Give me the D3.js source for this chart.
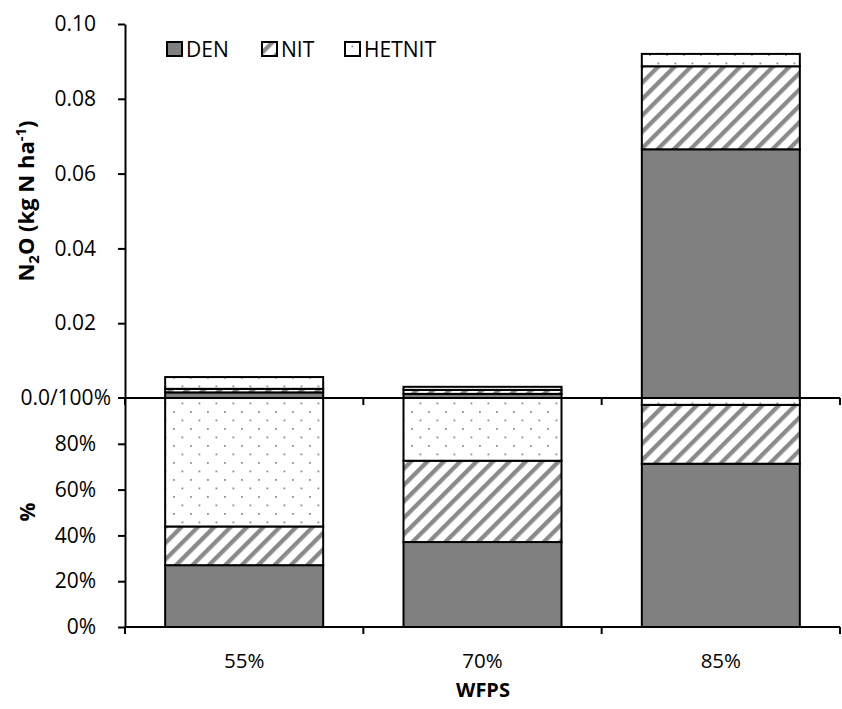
<!DOCTYPE html>
<html>
<head>
<meta charset="utf-8">
<script src="https://cdn.jsdelivr.net/npm/d3@7"></script>
<style>
  html, body { margin: 0; padding: 0; background: #fff; }
  svg { display: block; font-family: "Open Sans", sans-serif; }
</style>
</head>
<body>
<svg id="chart" width="842" height="709"></svg>
<script>
// WFPS treatments
const categories = ["55%", "70%", "85%"];
const seriesNames = ["DEN", "NIT", "HETNIT"];

// N2O emissions by pathway (kg N ha-1)
const denN2O = [0.0015, 0.0011, 0.0665];
const nitN2O = [0.00095, 0.00107, 0.0222];
const hetnitN2O = [0.00315, 0.00082, 0.0033];

// Share of each pathway (fraction of total)
const denPct = [0.27, 0.371, 0.713];
const nitPct = [0.169, 0.355, 0.257];
const hetnitPct = [0.561, 0.274, 0.030];

// Axis ticks
const n2oTicks = [0.02, 0.04, 0.06, 0.08, 0.10];
const pctTicks = [0, 0.2, 0.4, 0.6, 0.8];
const sharedTickLabel = "0.0/100%";

const svg = d3.select("#chart");
const defs = svg.append("defs");

// Fill patterns
const hatch = defs.append("pattern")
  .attr("id", "hatch").attr("patternUnits", "userSpaceOnUse")
  .attr("width", 11.6).attr("height", 11.6)
  .attr("patternTransform", "rotate(45)");
hatch.append("rect").attr("width", 11.6).attr("height", 11.6).attr("fill", "#fff");
hatch.append("rect").attr("x", 0).attr("y", 0).attr("width", 4.3).attr("height", 11.6).attr("fill", "#8a8a8a");

const dots = defs.append("pattern")
  .attr("id", "dots").attr("patternUnits", "userSpaceOnUse")
  .attr("width", 17).attr("height", 17);
dots.append("rect").attr("width", 17).attr("height", 17).attr("fill", "#fff");
dots.append("rect").attr("x", 3).attr("y", 3).attr("width", 1.8).attr("height", 1.8).attr("fill", "#8f8f8f");
dots.append("rect").attr("x", 11.5).attr("y", 11.5).attr("width", 1.8).attr("height", 1.8).attr("fill", "#8f8f8f");

const fills = { DEN: "#808080", NIT: "url(#hatch)", HETNIT: "url(#dots)" };

// Scales
const x = d3.scaleBand().domain(categories).range([125, 840])
  .paddingInner(0.337).paddingOuter(0.1685);
const yTop = d3.scaleLinear().domain([0, 0.10]).range([398, 24]);
const yPct = d3.scaleLinear().domain([0, 1]).range([627, 398]);

// Tables for stacking
const n2oRows = categories.map((c, i) => ({ cat: c, DEN: denN2O[i], NIT: nitN2O[i], HETNIT: hetnitN2O[i] }));
const pctRows = categories.map((c, i) => ({ cat: c, DEN: denPct[i], NIT: nitPct[i], HETNIT: hetnitPct[i] }));
const stack = d3.stack().keys(seriesNames);

function drawStack(rows, y) {
  const layers = stack(rows);
  const g = svg.append("g");
  layers.forEach(layer => {
    g.selectAll(null).data(layer).join("rect")
      .attr("x", d => x(d.data.cat))
      .attr("width", x.bandwidth())
      .attr("y", d => y(d[1]))
      .attr("height", d => y(d[0]) - y(d[1]))
      .attr("fill", fills[layer.key])
      .attr("stroke", "#000")
      .attr("stroke-width", 2);
  });
}
drawStack(pctRows, yPct);
drawStack(n2oRows, yTop);

// Axes
const tickFont = 21;
function styleAxis(g) {
  g.selectAll(".domain, .tick line").attr("stroke", "#000").attr("stroke-width", 2);
  g.selectAll("text").attr("font-size", tickFont).attr("font-family", "Open Sans, sans-serif").attr("fill", "#000");
}

svg.append("g").attr("transform", "translate(125,0)")
  .call(d3.axisLeft(yTop).tickValues(n2oTicks).tickFormat(d3.format(".2f")).tickSize(7).tickPadding(22).tickSizeOuter(0))
  .call(styleAxis);

svg.append("g").attr("transform", "translate(125,0)")
  .call(d3.axisLeft(yPct).tickValues(pctTicks).tickFormat(d3.format(".0%")).tickSize(7).tickPadding(22).tickSizeOuter(0))
  .call(styleAxis);

// Shared zero / 100% tick
const shared = svg.append("g").attr("transform", `translate(125,${yTop(0)})`);
shared.append("line").attr("x1", -7).attr("x2", 0).attr("stroke", "#000").attr("stroke-width", 2);
shared.append("text").attr("x", -14).attr("dy", "0.32em").attr("text-anchor", "end")
  .attr("font-size", tickFont).text(sharedTickLabel);

// Category axes: one under each panel
function catAxis(yPos, labels) {
  const g = svg.append("g").attr("transform", `translate(0,${yPos})`);
  g.append("line").attr("x1", 125).attr("x2", 840).attr("stroke", "#000").attr("stroke-width", 2);
  const bounds = [125].concat(categories.map(c => x(c) + x.bandwidth() + x.step() * x.paddingInner() / 2));
  bounds[bounds.length - 1] = 840;
  g.selectAll(null).data(bounds).join("line")
    .attr("x1", d => d).attr("x2", d => d).attr("y1", 0).attr("y2", 7)
    .attr("stroke", "#000").attr("stroke-width", 2);
  if (labels) {
    g.selectAll(null).data(categories).join("text")
      .attr("x", d => x(d) + x.bandwidth() / 2).attr("y", 41)
      .attr("text-anchor", "middle").attr("font-size", 20.5).text(d => d);
  }
}
catAxis(yTop(0), false);
catAxis(yPct(0), true);

// Axis titles
svg.append("text").attr("x", 483).attr("y", 697).attr("text-anchor", "middle")
  .attr("font-size", 20).attr("font-weight", "bold").text("WFPS");

const yt = svg.append("text").attr("transform", "translate(34,201) rotate(-90)")
  .attr("text-anchor", "middle").attr("font-size", 22).attr("font-weight", "bold");
yt.append("tspan").text("N");
yt.append("tspan").attr("font-size", 15).attr("dy", 5).text("2");
yt.append("tspan").attr("dy", -5).text("O (kg N ha");
yt.append("tspan").attr("font-size", 15).attr("dy", -8).text("-1");
yt.append("tspan").attr("dy", 8).text(")");

svg.append("text").attr("transform", "translate(35,512) rotate(-90)")
  .attr("text-anchor", "middle").attr("font-size", 21).attr("font-weight", "bold").text("%");

// Legend
const legendX = [167, 262, 345];
const legend = svg.append("g");
seriesNames.forEach((s, i) => {
  legend.append("rect").attr("x", legendX[i]).attr("y", 42).attr("width", 15).attr("height", 14)
    .attr("fill", fills[s]).attr("stroke", "#000").attr("stroke-width", 2);
  legend.append("text").attr("x", legendX[i] + 19).attr("y", 57)
    .attr("font-size", 21).text(s);
});
</script>
</body>
</html>
